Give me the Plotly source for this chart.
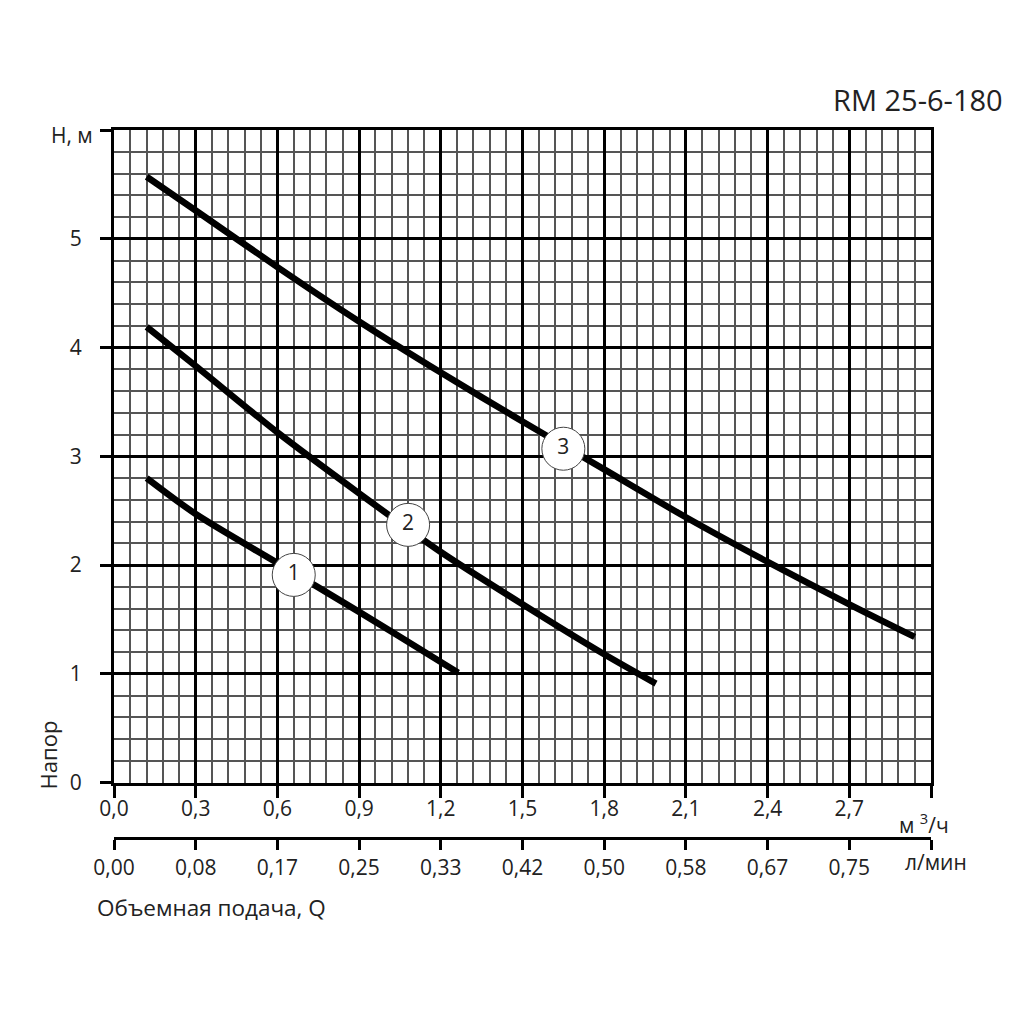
import plotly.graph_objects as go

# ---- data ----
q_ticks = [0.0, 0.3, 0.6, 0.9, 1.2, 1.5, 1.8, 2.1, 2.4, 2.7, 3.0]
q_labels = ["0,0", "0,3", "0,6", "0,9", "1,2", "1,5", "1,8", "2,1", "2,4", "2,7", ""]
l_labels = ["0,00", "0,08", "0,17", "0,25", "0,33", "0,42", "0,50", "0,58", "0,67", "0,75", ""]
h_ticks = [0, 1, 2, 3, 4, 5, 6]
h_labels = ["0", "1", "2", "3", "4", "5", ""]

c1_x = [0.12, 0.3, 0.6, 0.9, 1.2, 1.264]
c1_y = [2.80, 2.47, 2.02, 1.57, 1.11, 1.01]

c2_x = [0.12, 0.3, 0.6, 0.9, 1.2, 1.5, 1.8, 1.99]
c2_y = [4.19, 3.83, 3.22, 2.66, 2.12, 1.64, 1.18, 0.91]

c3_x = [0.12, 0.3, 0.6, 0.9, 1.2, 1.5, 1.8, 2.1, 2.4, 2.7, 2.94]
c3_y = [5.57, 5.26, 4.74, 4.24, 3.77, 3.32, 2.88, 2.44, 2.03, 1.64, 1.34]

mark_x = [0.66, 1.08, 1.65]
mark_y = [1.91, 2.37, 3.07]
mark_text = ["1", "2", "3"]

FONT = "Open Sans"
TXT = "#222222"
FS = 21

fig = go.Figure()
for cx, cy in [(c1_x, c1_y), (c2_x, c2_y), (c3_x, c3_y)]:
    fig.add_trace(go.Scatter(x=cx, y=cy, mode="lines",
                             line=dict(color="black", width=6.5, shape="spline", smoothing=0.8),
                             showlegend=False, hoverinfo="skip"))

fig.add_trace(go.Scatter(x=mark_x, y=mark_y, mode="markers+text", text=mark_text,
                         textposition="middle center",
                         textfont=dict(family=FONT, size=21, color=TXT),
                         marker=dict(size=43, color="white", line=dict(color="#444", width=1)),
                         showlegend=False, hoverinfo="skip"))

# invisible trace for secondary axis
fig.add_trace(go.Scatter(x=[0], y=[0], xaxis="x2", mode="markers",
                         marker=dict(opacity=0), showlegend=False, hoverinfo="skip"))

fig.update_layout(
    width=1024, height=1024,
    margin=dict(l=106, r=101, t=122, b=108, pad=0),
    plot_bgcolor="white", paper_bgcolor="white",
    font=dict(family=FONT, size=FS, color=TXT),
    xaxis=dict(range=[0, 3], tickvals=q_ticks, ticktext=q_labels,
               showgrid=True, gridcolor="black", gridwidth=3,
               minor=dict(dtick=0.06, tick0=0, showgrid=True, gridcolor="#555", gridwidth=1.5),
               showline=True, linecolor="black", linewidth=3, mirror=True,
               ticks="outside", ticklen=12, tickwidth=3, tickcolor="black",
               zeroline=False, tickfont=dict(size=FS, color=TXT), ticklabelstandoff=-7),
    xaxis2=dict(range=[0, 3], overlaying="x", anchor="free", position=0.1083, side="bottom",
                tickvals=q_ticks, ticktext=l_labels, showgrid=False, zeroline=False,
                showline=True, linecolor="black", linewidth=3,
                ticks="outside", ticklen=10, tickwidth=3, tickcolor="black",
                tickfont=dict(size=FS, color=TXT), ticklabelstandoff=0),
    yaxis=dict(range=[0, 6], domain=[0.178, 1], tickvals=h_ticks, ticktext=h_labels,
               showgrid=True, gridcolor="black", gridwidth=3,
               minor=dict(dtick=0.2, tick0=0, showgrid=True, gridcolor="#555", gridwidth=1.5),
               showline=True, linecolor="black", linewidth=3, mirror=True,
               ticks="outside", ticklen=11, tickwidth=3, tickcolor="black",
               zeroline=False, tickfont=dict(size=FS, color=TXT), ticklabelstandoff=14),
)

fig.add_annotation(text="RM 25-6-180", xref="paper", yref="paper", x=1.0906, y=1.0378,
                   xanchor="right", yanchor="middle", showarrow=False,
                   font=dict(family=FONT, size=29, color=TXT))
fig.add_annotation(text="H, м", xref="paper", yref="y", x=-0.0233, y=5.95,
                   xanchor="right", yanchor="middle", showarrow=False,
                   font=dict(family=FONT, size=FS, color=TXT))
fig.add_annotation(text="Напор", xref="paper", yref="y", x=-0.0808, y=0.26,
                   xanchor="center", yanchor="middle", textangle=-90, showarrow=False,
                   font=dict(family=FONT, size=22, color=TXT))
fig.add_annotation(text="м <sup>3</sup>/ч", xref="paper", yref="paper", x=0.991, y=0.127,
                   xanchor="center", yanchor="middle", showarrow=False,
                   font=dict(family=FONT, size=FS, color=TXT))
fig.add_annotation(text="л/мин", xref="paper", yref="paper", x=1.006, y=0.078,
                   xanchor="center", yanchor="middle", showarrow=False,
                   font=dict(family=FONT, size=FS, color=TXT))
fig.add_annotation(text="Объемная подача, Q", xref="paper", yref="paper", x=-0.0233, y=0.0214,
                   xanchor="left", yanchor="middle", showarrow=False,
                   font=dict(family=FONT, size=22.5, color=TXT))

fig.write_html("out.html")
